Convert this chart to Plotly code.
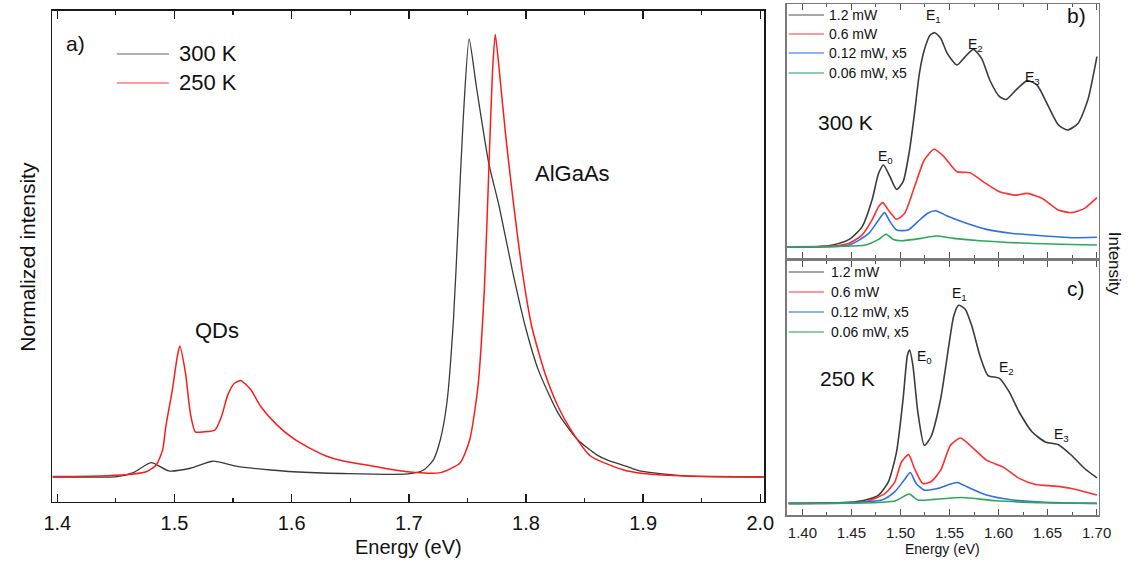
import plotly.graph_objects as go

W, H = 1141, 563
FONT = "Liberation Sans, Arial, sans-serif"

# ---------------- Panel a : normalized PL ----------------
E300 = [1.396, 1.4508, 1.465, 1.4801, 1.4951, 1.5136, 1.5328, 1.5537, 1.5822, 1.6014, 1.6432, 1.6993,
        1.7127, 1.721, 1.7269, 1.7325, 1.7381, 1.7423, 1.7464, 1.7515, 1.7577, 1.7682, 1.7772, 1.7883,
        1.7995, 1.8106, 1.8274, 1.8441, 1.8608, 1.8692, 1.886, 1.8968, 1.9387, 2.003]
I300 = [0.0, 0.001, 0.010, 0.033, 0.014, 0.020, 0.036, 0.024, 0.016, 0.012, 0.008, 0.007,
        0.016, 0.039, 0.085, 0.169, 0.358, 0.587, 0.815, 1.0, 0.891, 0.717, 0.617, 0.473,
        0.343, 0.244, 0.146, 0.085, 0.050, 0.039, 0.024, 0.014, 0.002, 0.0]

E250 = [1.396, 1.4424, 1.465, 1.4759, 1.4843, 1.4899, 1.4926, 1.4982, 1.5024, 1.5046, 1.5094, 1.5136,
        1.5178, 1.5247, 1.5345, 1.5401, 1.5456, 1.5512, 1.5568, 1.5652, 1.5736, 1.5874, 1.6014, 1.6154,
        1.6293, 1.6432, 1.6711, 1.6991, 1.7269, 1.7437, 1.752, 1.759, 1.7646, 1.7688, 1.7715, 1.7738,
        1.7772, 1.7828, 1.7883, 1.7967, 1.805, 1.8162, 1.8274, 1.8385, 1.855, 1.8834, 1.9002, 1.9387, 2.003]
I250 = [0.001, 0.003, 0.007, 0.012, 0.027, 0.062, 0.115, 0.199, 0.275, 0.299, 0.237, 0.145,
        0.103, 0.103, 0.107, 0.138, 0.188, 0.214, 0.220, 0.199, 0.161, 0.119, 0.088, 0.066,
        0.048, 0.037, 0.024, 0.012, 0.010, 0.032, 0.085, 0.206, 0.434, 0.740, 0.929, 1.011,
        0.929, 0.777, 0.648, 0.473, 0.343, 0.237, 0.161, 0.107, 0.048, 0.016, 0.008, 0.002, 0.0]

# ---------------- Panel b : 300 K power series ----------------
Eb_12 = [1.3843, 1.4143, 1.431, 1.4477, 1.461, 1.471, 1.4777, 1.4827, 1.4893, 1.496, 1.5027, 1.5093,
         1.5143, 1.5193, 1.5243, 1.5303, 1.535, 1.541, 1.5477, 1.5577, 1.566, 1.5743, 1.5827, 1.591,
         1.601, 1.6077, 1.6177, 1.6293, 1.6393, 1.651, 1.661, 1.6703, 1.681, 1.691, 1.7003]
Ib_12 = [0, 0, 0.008, 0.034, 0.094, 0.218, 0.343, 0.382, 0.327, 0.268, 0.304, 0.452,
         0.623, 0.810, 0.919, 0.989, 1.0, 0.974, 0.903, 0.849, 0.888, 0.922, 0.880, 0.779,
         0.701, 0.688, 0.732, 0.776, 0.755, 0.654, 0.569, 0.545, 0.576, 0.685, 0.888]
Eb_06 = [1.3843, 1.431, 1.4477, 1.461, 1.471, 1.4777, 1.482, 1.4877, 1.496, 1.5043, 1.5143, 1.5243,
         1.5343, 1.5443, 1.5577, 1.571, 1.5843, 1.601, 1.6177, 1.6293, 1.6443, 1.661, 1.6743, 1.6877, 1.7003]
Ib_06 = [0, 0.003, 0.016, 0.055, 0.125, 0.187, 0.206, 0.171, 0.128, 0.156, 0.280, 0.405,
         0.455, 0.421, 0.350, 0.346, 0.304, 0.257, 0.241, 0.249, 0.226, 0.171, 0.159, 0.179, 0.229]
Eb_012 = [1.3843, 1.4477, 1.4677, 1.4777, 1.4837, 1.4893, 1.496, 1.5077, 1.5177, 1.5277, 1.536,
          1.5477, 1.5643, 1.5877, 1.6143, 1.6477, 1.6743, 1.7003]
Ib_012 = [0, 0.008, 0.062, 0.125, 0.159, 0.117, 0.078, 0.078, 0.117, 0.156, 0.168,
          0.143, 0.114, 0.081, 0.062, 0.050, 0.042, 0.044]
Eb_006 = [1.3843, 1.4643, 1.4777, 1.4853, 1.4927, 1.501, 1.521, 1.536, 1.5543, 1.581, 1.631, 1.7003]
Ib_006 = [0, 0.008, 0.034, 0.058, 0.034, 0.028, 0.039, 0.050, 0.039, 0.028, 0.016, 0.008]

# ---------------- Panel c : 250 K power series ----------------
Ec_12 = [1.386, 1.4477, 1.4643, 1.4777, 1.4877, 1.496, 1.5027, 1.507, 1.5093, 1.5127, 1.5177, 1.5243,
         1.531, 1.541, 1.5493, 1.5543, 1.5593, 1.566, 1.5727, 1.581, 1.5893, 1.601, 1.611, 1.621,
         1.6343, 1.6477, 1.661, 1.6743, 1.6877, 1.7003]
Ic_12 = [0, 0.005, 0.017, 0.042, 0.109, 0.260, 0.528, 0.745, 0.774, 0.695, 0.461, 0.293,
         0.335, 0.528, 0.796, 0.946, 1.0, 0.980, 0.896, 0.745, 0.645, 0.631, 0.561, 0.461,
         0.360, 0.310, 0.296, 0.243, 0.176, 0.129]
Ec_06 = [1.386, 1.4643, 1.4843, 1.4943, 1.501, 1.5083, 1.5143, 1.5227, 1.531, 1.541, 1.551, 1.561,
         1.571, 1.5877, 1.6043, 1.621, 1.6377, 1.6577, 1.6743, 1.7003]
Ic_06 = [0, 0.008, 0.050, 0.109, 0.209, 0.246, 0.176, 0.1005, 0.109, 0.1675, 0.293, 0.330,
         0.293, 0.218, 0.184, 0.126, 0.0955, 0.087, 0.075, 0.042]
Ec_012 = [1.386, 1.481, 1.4943, 1.505, 1.51, 1.516, 1.5243, 1.5377, 1.5477, 1.5577, 1.5677,
          1.5877, 1.6143, 1.6477, 1.7003]
Ic_012 = [0, 0.017, 0.059, 0.126, 0.156, 0.1005, 0.067, 0.075, 0.092, 0.1055, 0.084,
          0.042, 0.017, 0.005, 0]
Ec_006 = [1.386, 1.4943, 1.5087, 1.5177, 1.5343, 1.5627, 1.5977, 1.6477, 1.7003]
Ic_006 = [0, 0.012, 0.047, 0.017, 0.020, 0.030, 0.013, 0.003, 0]

# tick definitions
a_ticks = [1.4, 1.5, 1.6, 1.7, 1.8, 1.9, 2.0]
a_ticklabels = ["1.4", "1.5", "1.6", "1.7", "1.8", "1.9", "2.0"]
bc_ticks = [1.40, 1.45, 1.50, 1.55, 1.60, 1.65, 1.70]
bc_ticklabels = ["1.40", "1.45", "1.50", "1.55", "1.60", "1.65", "1.70"]

series_names = ["1.2 mW", "0.6 mW", "0.12 mW, x5", "0.06 mW, x5"]
series_colors = ["#3c3c3c", "#ff3030", "#2f6fe8", "#2fa855"]
legend_colors = ["#a8a8a8", "#ff9a9a", "#8ab4f0", "#8ccfa4"]


def px(x):
    return x / W


def py(y):
    return 1 - y / H


fig = go.Figure()

SPL = dict(shape="spline", smoothing=0.6)

fig.add_trace(go.Scatter(x=E300, y=I300, mode="lines", line=dict(color="#3a3a3a", width=1.3, **SPL),
                         xaxis="x", yaxis="y", showlegend=False, hoverinfo="skip"))
fig.add_trace(go.Scatter(x=E250, y=I250, mode="lines", line=dict(color="#ff1a1a", width=1.5, **SPL),
                         xaxis="x", yaxis="y", showlegend=False, hoverinfo="skip"))

for Es, Is, col in zip([Eb_12, Eb_06, Eb_012, Eb_006], [Ib_12, Ib_06, Ib_012, Ib_006], series_colors):
    fig.add_trace(go.Scatter(x=Es, y=Is, mode="lines", line=dict(color=col, width=1.6, **SPL),
                             xaxis="x2", yaxis="y2", showlegend=False, hoverinfo="skip"))
for Es, Is, col in zip([Ec_12, Ec_06, Ec_012, Ec_006], [Ic_12, Ic_06, Ic_012, Ic_006], series_colors):
    fig.add_trace(go.Scatter(x=Es, y=Is, mode="lines", line=dict(color=col, width=1.6, **SPL),
                             xaxis="x3", yaxis="y3", showlegend=False, hoverinfo="skip"))

ax_a = dict(linecolor="#1a1a1a", linewidth=1.5, mirror="allticks", showgrid=False, zeroline=False)
ax_bc = dict(linecolor="#7a7a7a", linewidth=1.5, mirror="allticks", showgrid=False, zeroline=False)

fig.update_layout(
    width=W, height=H, autosize=False,
    margin=dict(l=0, r=0, t=0, b=0),
    paper_bgcolor="white", plot_bgcolor="white",
    font=dict(family=FONT, color="#111111"),
    xaxis=dict(domain=[px(44), px(770)], range=[1.3956, 2.0033], anchor="y",
               tickmode="array", tickvals=a_ticks, ticktext=a_ticklabels,
               ticks="inside", ticklen=8, tickwidth=1.5, tickcolor="#1a1a1a",
               minor=dict(dtick=0.05, ticks="inside", ticklen=4, tickwidth=1.2, tickcolor="#1a1a1a"),
               tickfont=dict(size=20, family=FONT, color="#111"), ticklabelstandoff=3, **ax_a),
    yaxis=dict(domain=[py(501.7), py(10.7)], range=[-0.0564, 1.0646], anchor="x",
               showticklabels=False, ticks="", **ax_a),
    xaxis2=dict(domain=[px(793), px(1111)], range=[1.384, 1.702], anchor="y2",
                tickmode="array", tickvals=bc_ticks, showticklabels=False,
                ticks="inside", ticklen=6, tickwidth=1.3, tickcolor="#555",
                minor=dict(dtick=0.025, ticks="inside", ticklen=3, tickwidth=1, tickcolor="#555"), **ax_bc),
    yaxis2=dict(domain=[py(258), py(4)], range=[-0.0528, 1.134], anchor="x2",
                showticklabels=False, ticks="", **ax_bc),
    xaxis3=dict(domain=[px(793), px(1111)], range=[1.384, 1.702], anchor="y3",
                tickmode="array", tickvals=bc_ticks, ticktext=bc_ticklabels,
                ticks="inside", ticklen=6, tickwidth=1.3, tickcolor="#555",
                minor=dict(dtick=0.025, ticks="inside", ticklen=3, tickwidth=1, tickcolor="#555"),
                tickfont=dict(size=15, family=FONT, color="#222"), ticklabelstandoff=3, **ax_bc),
    yaxis3=dict(domain=[py(515), py(261)], range=[-0.0586, 1.223], anchor="x3",
                showticklabels=False, ticks="", **ax_bc),
)

shapes = []
ann = []


def text(x, y, s, size, **kw):
    ann.append(dict(x=px(x), y=py(y), xref="paper", yref="paper", text=s, showarrow=False,
                    font=dict(size=size, family=FONT, color=kw.pop("color", "#111")),
                    xanchor=kw.pop("xanchor", "center"), yanchor=kw.pop("yanchor", "middle"), **kw))


def lline(x0, x1, y, color, width=2):
    shapes.append(dict(type="line", xref="paper", yref="paper", x0=px(x0), x1=px(x1), y0=py(y), y1=py(y),
                       line=dict(color=color, width=width)))


# panel a texts
text(68, 43, "a)", 21)
lline(110, 163, 54, "#b0b0b0")
lline(110, 163, 83, "#ff9c9c")
text(171, 54, "300 K", 22, xanchor="left")
text(171, 83, "250 K", 22, xanchor="left")
text(212, 330, "QDs", 22)
text(575, 173, "AlGaAs", 22)
text(407, 547, "Energy (eV)", 20)
text(18, 257, "Normalized intensity", 21, textangle=-90)

# panel b texts
for i, (nm, lc) in enumerate(zip(series_names, legend_colors)):
    yy = [15, 34, 53, 73][i]
    lline(795, 831, yy, lc)
    text(834, yy, nm, 14, xanchor="left")
text(1088, 16, "b)", 21)
text(853, 122, "300 K", 21)
text(943, 16, "E<sub>1</sub>", 14)
text(986, 45, "E<sub>2</sub>", 14)
text(1044, 78, "E<sub>3</sub>", 14)
text(894, 157, "E<sub>0</sub>", 14)

# panel c texts
for i, (nm, lc) in enumerate(zip(series_names, legend_colors)):
    yy = [272, 292, 312, 332][i]
    lline(795, 831, yy, lc)
    text(836, yy, nm, 14, xanchor="left")
text(1088, 288, "c)", 21)
text(855, 378, "250 K", 21)
text(969, 294, "E<sub>1</sub>", 14)
text(933, 357, "E<sub>0</sub>", 14)
text(1017, 368, "E<sub>2</sub>", 14)
text(1073, 435, "E<sub>3</sub>", 14)
text(952, 549, "Energy (eV)", 14)
text(1128, 264, "Intensity", 17, textangle=90)

fig.update_layout(shapes=shapes, annotations=ann, hovermode=False)

fig.write_html("out.html", config={"displayModeBar": False, "staticPlot": True},
               post_script="document.body.style.margin='0px';document.body.style.overflow='hidden';")
